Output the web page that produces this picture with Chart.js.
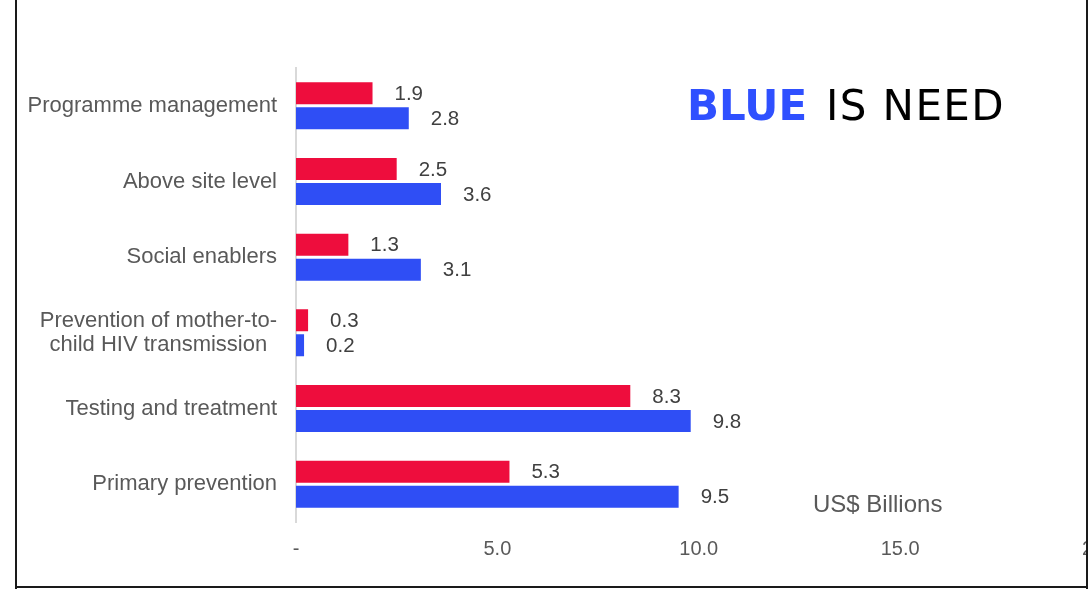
<!DOCTYPE html>
<html>
<head>
<meta charset="utf-8">
<script src="https://cdn.jsdelivr.net/npm/chart.js@4.4.1/dist/chart.umd.min.js"></script>
<style>
  body { margin: 0; background: #fff; }
  #wrap { position: relative; width: 1089px; height: 590px; overflow: hidden; background: #fff; }
  #box { position: absolute; left: 0; top: 0; width: 1136px; height: 590px; }
  .edge { position: absolute; background: #1a1a1a; }
</style>
</head>
<body>
<div id="wrap">
  <div id="box"><canvas id="chart"></canvas></div>
  <div style="position:absolute;left:1088px;top:0;width:60px;height:590px;background:#fff"></div>
  <div class="edge" style="left:15px;top:0;width:2px;height:589px"></div>
  <div class="edge" style="left:15px;top:586px;width:1073px;height:2px"></div>
  <div class="edge" style="left:1086px;top:0;width:2px;height:589px"></div>
</div>
<script>
// categories, top to bottom
const categories = [
  "Programme management",
  "Above site level",
  "Social enablers",
  "Prevention of mother-to-\nchild HIV transmission",
  "Testing and treatment",
  "Primary prevention",
];
// red bars (upper bar in each pair)
const redValues = [1.9, 2.5, 1.3, 0.3, 8.3, 5.3];
// blue bars = need
const needValues = [2.8, 3.6, 3.1, 0.2, 9.8, 9.5];
const xTicks = [0, 5, 10, 15, 20];
const unitLabel = "US$ Billions";

const RED = "#ee0d3d";
const BLUE = "#2f4ef5";
const FONT = "'Liberation Sans', Arial, sans-serif";
const TITLE_FONT = "'DejaVu Sans', Verdana, sans-serif";

Chart.defaults.font.family = FONT;

// value labels, category labels and the two notes
const drawText = {
  id: "drawText",
  afterDatasetsDraw(chart) {
    const ctx = chart.ctx;
    const area = chart.chartArea;
    ctx.save();

    ctx.font = "20.5px " + FONT;
    ctx.fillStyle = "#404040";
    ctx.textAlign = "left";
    ctx.textBaseline = "middle";
    chart.data.datasets.forEach((ds, i) => {
      chart.getDatasetMeta(i).data.forEach((bar, j) => {
        ctx.fillText(ds.data[j].toFixed(1), bar.x + 22, bar.y + 1);
      });
    });

    const yScale = chart.scales.y;
    ctx.font = "22px " + FONT;
    ctx.fillStyle = "#595959";
    ctx.textAlign = "center";
    const right = area.left - 19;
    categories.forEach((cat, j) => {
      const lines = cat.split("\n");
      const cy = yScale.getPixelForTick(j);
      const w = Math.max(...lines.map((l) => ctx.measureText(l).width));
      const lh = 24.5;
      lines.forEach((l, k) => {
        const y = cy + (k - (lines.length - 1) / 2) * lh;
        ctx.fillText(l, right - w / 2, y);
      });
    });

    ctx.font = "24px " + FONT;
    ctx.textAlign = "left";
    ctx.textBaseline = "alphabetic";
    ctx.fillText(unitLabel, 813, 512);

    ctx.font = "bold 42px " + TITLE_FONT;
    ctx.fillStyle = "#2f50ff";
    ctx.fillText("BLUE", 687, 120);
    ctx.font = "42px " + TITLE_FONT;
    ctx.fillStyle = "#000";
    ctx.letterSpacing = "1.4px";
    ctx.fillText("IS NEED", 826, 120);

    ctx.restore();
  },
};

new Chart(document.getElementById("chart"), {
  type: "bar",
  data: {
    labels: categories,
    datasets: [
      { label: "Available", data: redValues, backgroundColor: RED },
      { label: "Need", data: needValues, backgroundColor: BLUE },
    ],
  },
  options: {
    indexAxis: "y",
    responsive: true,
    maintainAspectRatio: false,
    animation: false,
    categoryPercentage: 0.66,
    barPercentage: 0.88,
    layout: { padding: { left: 296, top: 68, right: 20, bottom: 0 } },
    plugins: {
      legend: { display: false },
      tooltip: { enabled: false },
    },
    scales: {
      x: {
        min: 0,
        max: 20,
        afterBuildTicks: (s) => {
          s.ticks = xTicks.map((v) => ({ value: v }));
        },
        afterFit: (s) => {
          s.height = 68;
        },
        grid: { display: false, drawTicks: false },
        border: { display: false },
        ticks: {
          padding: 15,
          color: "#595959",
          font: { size: 20 },
          maxRotation: 0,
          callback: (v) => (v === 0 ? "-" : v.toFixed(1)),
        },
      },
      y: {
        afterFit: (s) => {
          s.width = 0;
        },
        grid: { display: false, drawTicks: false },
        border: { display: true, color: "#d9d9d9", width: 2 },
        ticks: { display: false },
      },
    },
  },
  plugins: [drawText],
});
</script>
</body>
</html>
